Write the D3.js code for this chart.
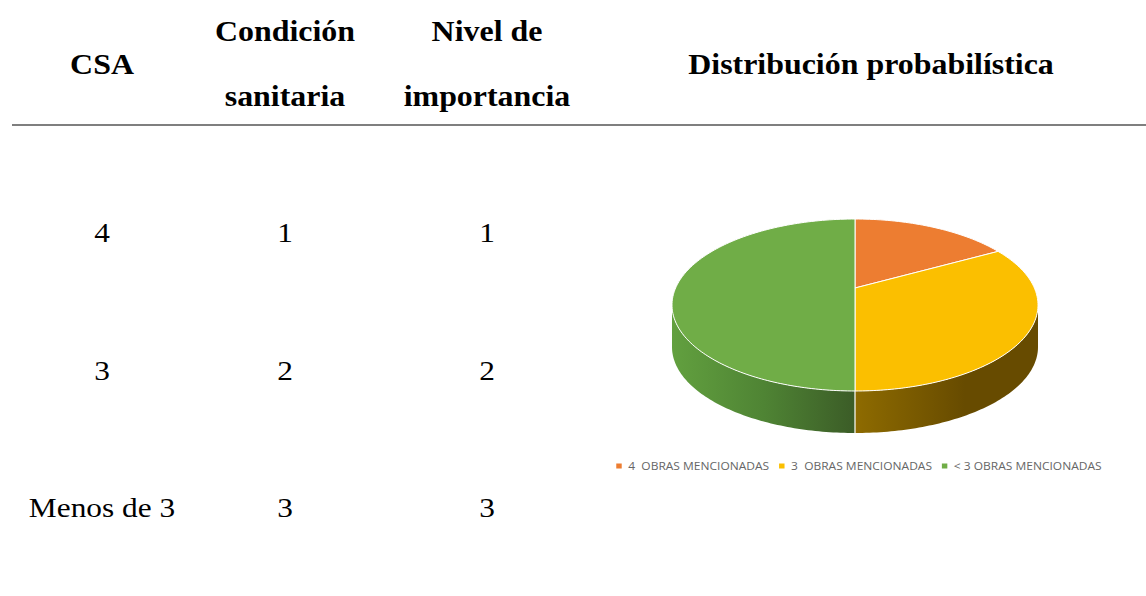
<!DOCTYPE html>
<html lang="es">
<head>
<meta charset="utf-8">
<script src="https://d3js.org/d3.v7.min.js"></script>
<style type="text/css">
body {
	margin: 0;
	background: white;
}
.head {
	font: bold 28.5px "Liberation Serif", "Times New Roman", serif;
	fill: #000;
	text-anchor: middle;
}
.cell {
	font: 28px "Liberation Serif", "Times New Roman", serif;
	fill: #000;
	text-anchor: middle;
}
.legend text {
	font: 11px "Open Sans", sans-serif;
	fill: #666;
	white-space: pre;
}
</style>
</head>
<body>
<svg id="chart"></svg>
<script type="text/javascript">

// table columns
var columns = ["CSA", "Condición sanitaria", "Nivel de importancia"];
var csa = ["4", "3", "Menos de 3"];
var condicion = ["1", "2", "3"];
var nivel = ["1", "2", "3"];

// pie
var pieTitle = "Distribución probabilística";
var categories = ["4  OBRAS MENCIONADAS", "3  OBRAS MENCIONADAS", "< 3 OBRAS MENCIONADAS"];
var values = [2, 5, 7];
var colors = ["#ED7D31", "#FBBF00", "#70AD47"];

var width = 1146, height = 596;
var stretch = 1.12;   // the source picture is a bit wide

var svg = d3.select("#chart")
	.attr("width", width)
	.attr("height", height);

function put(x, y) {
	return "translate(" + x + "," + y + ") scale(" + stretch + ",1)";
}

// ---- table ----
var colX = [102, 285, 487];
var headLines = [["CSA"], ["Condición", "sanitaria"], ["Nivel de", "importancia"]];

headLines.forEach(function(lines, i) {
	if (lines.length == 1) {
		svg.append("text").attr("class", "head")
			.attr("transform", put(colX[i], 74)).text(lines[0]);
	} else {
		svg.append("text").attr("class", "head")
			.attr("transform", put(colX[i], 41)).text(lines[0]);
		svg.append("text").attr("class", "head")
			.attr("transform", put(colX[i], 106)).text(lines[1]);
	}
});

svg.append("text").attr("class", "head")
	.attr("transform", put(871, 74))
	.text(pieTitle);

svg.append("line")
	.attr("x1", 12).attr("x2", width)
	.attr("y1", 125).attr("y2", 125)
	.style("stroke", "#555")
	.style("stroke-width", 1.3);

var rowY = d3.scalePoint().domain(d3.range(csa.length)).range([242, 517]);

[csa, condicion, nivel].forEach(function(col, i) {
	svg.selectAll(null)
		.data(col)
		.join("text")
		.attr("class", "cell")
		.attr("transform", function(d, j) { return put(colX[i], rowY(j)); })
		.text(function(d) { return d; });
});

// ---- 3D pie ----
var cx = 855, cy = 305, rx = 183, ry = 86, depth = 42, apexY = 288;

function pt(a, dy) {
	return [cx + rx * Math.sin(a), cy - ry * Math.cos(a) + (dy || 0)];
}
function arcPts(a0, a1, dy) {
	var n = Math.max(2, Math.ceil((a1 - a0) / 0.02));
	return d3.range(n + 1).map(function(k) { return pt(a0 + (a1 - a0) * k / n, dy); });
}

var arcs = d3.pie().sort(null)(values);

var defs = svg.append("defs");
var g1 = defs.append("linearGradient").attr("id", "sideGreen")
	.attr("gradientUnits", "userSpaceOnUse")
	.attr("x1", cx - rx).attr("x2", cx).attr("y1", 0).attr("y2", 0);
g1.append("stop").attr("offset", 0).attr("stop-color", "#62A03F");
g1.append("stop").attr("offset", 0.5).attr("stop-color", "#4F8434");
g1.append("stop").attr("offset", 1).attr("stop-color", "#3B5C27");
var g2 = defs.append("linearGradient").attr("id", "sideYellow")
	.attr("gradientUnits", "userSpaceOnUse")
	.attr("x1", cx).attr("x2", cx + 110).attr("y1", 0).attr("y2", 0);
g2.append("stop").attr("offset", 0).attr("stop-color", "#8E6B00");
g2.append("stop").attr("offset", 1).attr("stop-color", "#674B00");
var sideFills = ["#8a4a1d", "url(#sideYellow)", "url(#sideGreen)"];

var line = d3.line();

// side walls, only for the front half
arcs.forEach(function(d, i) {
	var a0 = Math.max(d.startAngle, Math.PI / 2);
	var a1 = Math.min(d.endAngle, 3 * Math.PI / 2);
	if (a1 <= a0) return;
	var top = arcPts(a0, a1, 0);
	var bot = arcPts(a0, a1, depth).reverse();
	svg.append("path")
		.attr("d", line(top.concat(bot)) + "Z")
		.style("fill", sideFills[i])
		.style("stroke", "none");
});

// white edge on side
svg.append("line")
	.attr("x1", cx).attr("x2", cx)
	.attr("y1", cy + ry).attr("y2", cy + ry + depth)
	.style("stroke", "#fff").style("stroke-width", 1.2);

// top faces
svg.selectAll("path.slice")
	.data(arcs)
	.join("path")
	.attr("class", "slice")
	.attr("d", function(d) {
		return line([[cx, apexY]].concat(arcPts(d.startAngle, d.endAngle, 0))) + "Z";
	})
	.style("fill", function(d, i) { return colors[i]; })
	.style("stroke", "#fff")
	.style("stroke-width", 1)
	.style("stroke-linejoin", "round");

// ---- legend ----
var legend = svg.append("g").attr("class", "legend");
var items = legend.selectAll("g")
	.data(categories)
	.join("g");
items.append("rect")
	.attr("width", 5).attr("height", 5)
	.attr("y", -6.5)
	.style("fill", function(d, i) { return colors[i]; });
items.append("text")
	.attr("x", 11)
	.attr("y", 0)
	.text(function(d) { return d; });

var xpos = 0;
items.each(function() {
	var g = d3.select(this);
	g.attr("transform", "translate(" + xpos + ",0)");
	xpos += 11 + g.select("text").node().getComputedTextLength() + 9;
});
var legW = (xpos - 9) * 1.09;
legend.attr("transform", "translate(" + (859 - legW / 2) + ",470) scale(1.09,1)");

</script>
</body>
</html>
